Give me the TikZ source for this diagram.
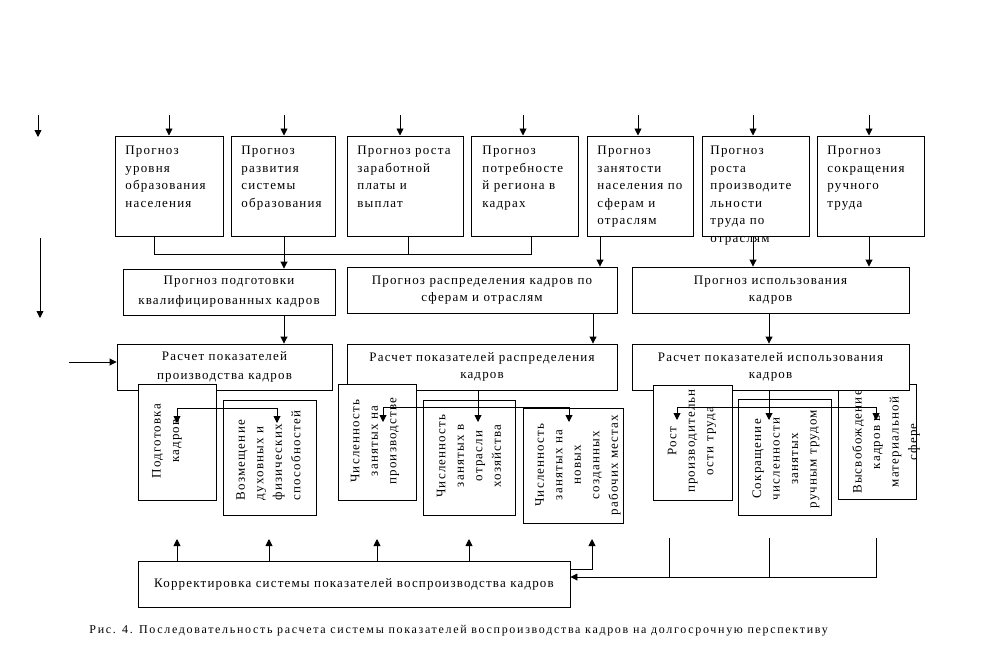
\documentclass[tikz,border=0pt]{standalone}
\usepackage{fontspec}
\setmainfont{Liberation Serif}[LetterSpace=9]
\newfontfamily\capfont{Liberation Serif}[LetterSpace=14]
\usetikzlibrary{arrows.meta}
\begin{document}
\begin{tikzpicture}[x=1pt,y=-1pt,line width=0.9pt,
  >={Triangle[length=7pt,width=7pt]},
  box/.style={draw,fill=white,inner sep=0pt,anchor=north west},
  ttext/.style={anchor=north west,align=left,inner sep=0pt,font=\fontsize{13}{17.5}\selectfont},
  cbox/.style={draw,fill=white,inner sep=0pt,align=center,font=\fontsize{13}{17}\selectfont},
  rtext/.style={rotate=90,align=center,inner sep=0pt,font=\fontsize{13}{18.5}\selectfont}]
\useasboundingbox (0,0) rectangle (1008,654);
\fill[white] (0,0) rectangle (1008,654);

% ---- top row boxes
\node[box,minimum width=108pt,minimum height=100pt] (b1) at (115,135.5) {};
\node[box,minimum width=104pt,minimum height=100pt] (b2) at (231,135.5) {};
\node[box,minimum width=116pt,minimum height=100pt] (b3) at (347,135.5) {};
\node[box,minimum width=107pt,minimum height=100pt] (b4) at (471,135.5) {};
\node[box,minimum width=106pt,minimum height=100pt] (b5) at (587,135.5) {};
\node[box,minimum width=107pt,minimum height=100pt] (b6) at (702,135.5) {};
\node[box,minimum width=107pt,minimum height=100pt] (b7) at (817,135.5) {};

\node[ttext] (b1t) at (125,146) {Прогноз\\уровня\\образования\\населения};
\node[ttext] (b2t) at (241,146) {Прогноз\\развития\\системы\\образования};
\node[ttext] (b3t) at (357,146) {Прогноз роста\\заработной\\платы и\\выплат};
\node[ttext] (b4t) at (482,146) {Прогноз\\потребносте\\й региона в\\кадрах};
\node[ttext] (b5t) at (597,146) {Прогноз\\занятости\\населения по\\сферам и\\отраслям};
\node[ttext] (b6t) at (710,146) {Прогноз\\роста\\производите\\льности\\труда по\\отраслям};
\node[ttext] (b7t) at (827,146) {Прогноз\\сокращения\\ручного\\труда};

% ---- top incoming arrows
\foreach \n/\x in {b1/169,b2/284,b3/400,b4/523,b5/638,b6/753,b7/869}{
  \coordinate (t\n) at (\x,115);
  \draw[->] (t\n) -- (t\n |- \n.north);
}

% ---- stray arrows on the left
\coordinate (L1a) at (38,115); \coordinate (L1b) at (38,137);
\draw[->] (L1a) -- (L1b);
\coordinate (L2a) at (40,238); \coordinate (L2b) at (40,318);
\draw[->] (L2a) -- (L2b);

% ---- second row
\node[cbox,minimum width=212pt,minimum height=46pt,font=\fontsize{13}{20}\selectfont] (p1) at (229,292) {Прогноз подготовки\\квалифицированных кадров};
\node[cbox,minimum width=270pt,minimum height=46pt] (p2) at (482,290) {Прогноз распределения кадров по\\сферам и отраслям};
\node[cbox,minimum width=277pt,minimum height=46pt] (p3) at (770.5,290) {Прогноз использования\\кадров};

% connectors row1 -> row2
\coordinate (j1) at (154,254);
\coordinate (j3) at (408,254);
\coordinate (j4) at (531,254);
\draw (j1 |- b1.south) -- (j1) -- (j4) -- (j4 |- b4.south);
\draw (j3 |- b3.south) -- (j3);
\coordinate (c2) at (284,254);
\draw[->] (c2 |- b2.south) -- (c2 |- p1.north);
\coordinate (c5) at (600,250);
\draw[->] (c5 |- b5.south) -- (c5 |- p2.north);
\coordinate (c6) at (753,250);
\draw[->] (c6 |- b6.south) -- (c6 |- p3.north);
\coordinate (c7) at (869,250);
\draw[->] (c7 |- b7.south) -- (c7 |- p3.north);

% ---- lower box behind third calc box
\node[box,minimum width=78pt,minimum height=115pt] (d8) at (838,384) {};
\node[rtext] (d8t) at (886,442) {Высвобождение\\кадров в\\материальной\\сфере};

% ---- third row
\node[cbox,minimum width=215pt,minimum height=46pt,font=\fontsize{13}{19}\selectfont] (r1) at (224.5,367) {Расчет показателей\\производства кадров};
\node[cbox,minimum width=270pt,minimum height=46pt] (r2) at (482,367) {Расчет показателей распределения\\кадров};
\node[cbox,minimum width=277pt,minimum height=46pt] (r3) at (770.5,367) {Расчет показателей использования\\кадров};

\coordinate (s1) at (284,330);
\draw[->] (s1 |- p1.south) -- (s1 |- r1.north);
\coordinate (s2) at (593,330);
\draw[->] (s2 |- p2.south) -- (s2 |- r2.north);
\coordinate (s3) at (769,330);
\draw[->] (s3 |- p3.south) -- (s3 |- r3.north);

\coordinate (L3a) at (69,362);
\draw[->] (L3a) -- (r1.west |- L3a);

% ---- lower rotated boxes
\node[box,minimum width=78pt,minimum height=116pt] (d1) at (138,384) {};
\node[box,minimum width=93pt,minimum height=115pt] (d2) at (223,400) {};
\node[box,minimum width=78pt,minimum height=116pt] (d3) at (338,384) {};
\node[box,minimum width=92pt,minimum height=115pt] (d4) at (423,400) {};
\node[box,minimum width=100pt,minimum height=115pt] (d5) at (523,408) {};
\node[box,minimum width=79pt,minimum height=115pt] (d6) at (653,385) {};
\node[box,minimum width=93pt,minimum height=116pt] (d7) at (738,399) {};

\node[rtext] (d1t) at (167,441) {Подготовка\\кадров};
\node[rtext,align=left] (d2t) at (268.5,455.5) {Возмещение\\духовных и\\физических\\способностей};
\node[rtext] (d3t) at (375,441) {Численность\\занятых на\\производстве};
\node[rtext] (d4t) at (469,456) {Численность\\занятых в\\отрасли\\хозяйства};
\node[rtext] (d5t) at (578,465) {Численность\\занятых на\\новых\\созданных\\рабочих местах};
\node[rtext] (d6t) at (692,441) {Рост\\производительн\\ости труда};
\node[rtext] (d7t) at (786,459) {Сокращение\\численности\\занятых\\ручным трудом};

% ---- brackets with arrows
\coordinate (q1) at (177,408); \coordinate (q2) at (277,408);
\coordinate (q1e) at (177,423); \coordinate (q2e) at (277,423);
\draw (q1) -- (q2);
\draw[->] (q1) -- (q1e);
\draw[->] (q2) -- (q2e);

\coordinate (m1) at (383,407); \coordinate (m3) at (569,407);
\coordinate (m1e) at (383,422); \coordinate (m2e) at (478,422); \coordinate (m3e) at (569,422);
\draw (m1) -- (m3);
\draw[->] (m1) -- (m1e);
\draw[->] (m3) -- (m3e);
\draw[->] (m2e |- r2.south) -- (m2e);

\coordinate (n1) at (677,407); \coordinate (n3) at (876,407);
\coordinate (n1e) at (677,420); \coordinate (n2e) at (769,420); \coordinate (n3e) at (876,420);
\draw (n1) -- (n3);
\draw[->] (n1) -- (n1e);
\draw[->] (n3) -- (n3e);
\draw[->] (n2e |- r3.south) -- (n2e);

% ---- bottom box
\node[cbox,minimum width=432pt,minimum height=46pt] (k) at (354,584) {Корректировка системы показателей воспроизводства кадров};

\foreach \i/\x in {1/177,2/269,3/377,4/469}{
  \coordinate (u\i) at (\x,539);
  \draw[->] (u\i |- k.north) -- (u\i);
}
\coordinate (u5) at (592,539); \coordinate (u5b) at (592,569);
\draw[->] (k.east |- u5b) -- (u5b) -- (u5);

\coordinate (v1) at (669,538); \coordinate (v2) at (769,538);
\coordinate (v3) at (876,538); \coordinate (v3b) at (876,577);
\draw[->] (v3) -- (v3b) -- (k.east |- v3b);
\draw (v1) -- (v1 |- v3b);
\draw (v2) -- (v2 |- v3b);

% ---- caption
\node[anchor=west,inner sep=0pt,font=\capfont\fontsize{12}{14}\selectfont] (cap) at (89,631) {Рис. 4. Последовательность расчета системы показателей воспроизводства кадров на долгосрочную перспективу};
\end{tikzpicture}
\end{document}
